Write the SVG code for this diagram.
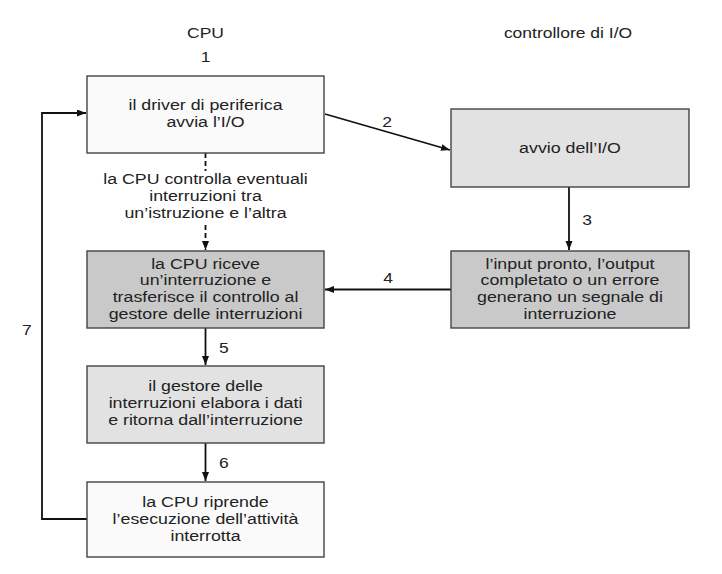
<svg xmlns="http://www.w3.org/2000/svg" width="722" height="574" viewBox="0 0 722 574">
<style>
text{font-family:"Liberation Sans",Arial,sans-serif;font-size:14px;fill:#222;text-anchor:middle}
.box{stroke:#444;stroke-width:1.4}
.w{fill:#fafafa}.l{fill:#e2e2e2}.d{fill:#c9c9c9}
.c{fill:none;stroke:#111;stroke-width:1.8}
.dash{stroke-dasharray:5,3}
</style>
<defs>
<marker id="ah" markerUnits="userSpaceOnUse" markerWidth="10" markerHeight="8" refX="9" refY="3.5" orient="auto">
<path d="M0,0 L9,3.5 L0,7 z" fill="#111"/>
</marker>
</defs>
<rect width="722" height="574" fill="#fff"/>
<g id="headers">
<g transform="translate(205.5,0) scale(1.25,1)"><text x="0" y="38">CPU</text><text x="0" y="62">1</text></g>
<g transform="translate(568,0) scale(1.25,1)"><text x="0" y="38">controllore di I/O</text></g>
</g>
<g id="connectors">
<line class="c" x1="325" y1="114" x2="450" y2="150" marker-end="url(#ah)"/>
<line class="c dash" x1="205.5" y1="153" x2="205.5" y2="171"/>
<line class="c dash" x1="205.5" y1="225" x2="205.5" y2="250" marker-end="url(#ah)"/>
<line class="c" x1="569" y1="187" x2="569" y2="250" marker-end="url(#ah)"/>
<line class="c" x1="451" y1="289.5" x2="325" y2="289.5" marker-end="url(#ah)"/>
<line class="c" x1="205.5" y1="328" x2="205.5" y2="365" marker-end="url(#ah)"/>
<line class="c" x1="205.5" y1="443" x2="205.5" y2="481" marker-end="url(#ah)"/>
<polyline class="c" points="87,519 42,519 42,113 86,113" marker-end="url(#ah)"/>
<g transform="scale(1.25,1)">
<text x="309.6" y="127">2</text>
<text x="469.6" y="225">3</text>
<text x="310.4" y="283">4</text>
<text x="179.2" y="353">5</text>
<text x="179.2" y="468">6</text>
<text x="21.6" y="335">7</text>
</g>
<g transform="translate(205.5,0) scale(1.27,1)">
<text x="0" y="184.5">la CPU controlla eventuali</text>
<text x="0" y="201.2">interruzioni tra</text>
<text x="0" y="217.9">un’istruzione e l’altra</text>
</g>
</g>
<g id="n1">
<rect class="box w" x="87" y="76" width="237" height="77"/>
<g transform="translate(205.5,0) scale(1.27,1)"><text x="0" y="110">il driver di periferica</text><text x="0" y="126.7">avvia l’I/O</text></g>
</g>
<g id="n2">
<rect class="box l" x="451" y="109" width="238" height="78"/>
<g transform="translate(570,0) scale(1.27,1)"><text x="0" y="153">avvio dell’I/O</text></g>
</g>
<g id="n3">
<rect class="box d" x="87" y="251" width="237" height="77"/>
<g transform="translate(205.5,0) scale(1.27,1)"><text x="0" y="268.7">la CPU riceve</text><text x="0" y="285.4">un’interruzione e</text><text x="0" y="302.1">trasferisce il controllo al</text><text x="0" y="318.8">gestore delle interruzioni</text></g>
</g>
<g id="n4">
<rect class="box d" x="451" y="251" width="238" height="77"/>
<g transform="translate(570,0) scale(1.27,1)"><text x="0" y="268.7">l’input pronto, l’output</text><text x="0" y="285.4">completato o un errore</text><text x="0" y="302.1">generano un segnale di</text><text x="0" y="318.8">interruzione</text></g>
</g>
<g id="n5">
<rect class="box l" x="87" y="366" width="237" height="77"/>
<g transform="translate(205.5,0) scale(1.27,1)"><text x="0" y="391.5">il gestore delle</text><text x="0" y="408.2">interruzioni elabora i dati</text><text x="0" y="424.9">e ritorna dall’interruzione</text></g>
</g>
<g id="n6">
<rect class="box w" x="87" y="482" width="237" height="75"/>
<g transform="translate(205.5,0) scale(1.27,1)"><text x="0" y="507">la CPU riprende</text><text x="0" y="524">l’esecuzione dell’attività</text><text x="0" y="541">interrotta</text></g>
</g>
</svg>
